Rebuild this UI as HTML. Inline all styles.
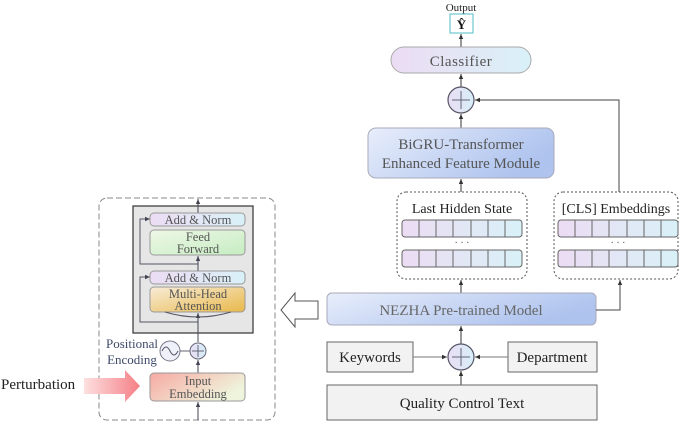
<!DOCTYPE html>
<html><head><meta charset="utf-8"><style>
html,body{margin:0;padding:0;background:#fff;}
svg{display:block;}
svg text{font-family:"Liberation Serif","Times New Roman",Times,serif;}
</style></head><body>
<svg width="685" height="422" viewBox="0 0 685 422" xmlns="http://www.w3.org/2000/svg" font-family="'Liberation Serif','Times New Roman',serif">
<defs>
<linearGradient id="cls" x1="0" x2="1"><stop offset="0" stop-color="#ecdcf3"/><stop offset="1" stop-color="#d9f1f8"/></linearGradient>
<linearGradient id="blue" x1="0" y1="0" x2="1" y2="0.4"><stop offset="0" stop-color="#e8eefb"/><stop offset="1" stop-color="#aec3ee"/></linearGradient>
<linearGradient id="plus" x1="0" x2="1"><stop offset="0" stop-color="#e9def4"/><stop offset="1" stop-color="#d7eef8"/></linearGradient>
<linearGradient id="ff" x1="0" y1="0" x2="1" y2="1"><stop offset="0" stop-color="#eef8e6"/><stop offset="1" stop-color="#c6ecc2"/></linearGradient>
<linearGradient id="mha" x1="0" y1="0" x2="1" y2="1"><stop offset="0" stop-color="#f8ecd8"/><stop offset="1" stop-color="#e8b84a"/></linearGradient>
<linearGradient id="ie" x1="0" y1="0" x2="1" y2="0.5"><stop offset="0" stop-color="#f7a9a3"/><stop offset="1" stop-color="#eef5dc"/></linearGradient>
<linearGradient id="pert" x1="0" x2="1"><stop offset="0" stop-color="#fde0e0"/><stop offset="1" stop-color="#f57f86"/></linearGradient>
<marker id="ar" markerWidth="6" markerHeight="6" refX="5" refY="3" orient="auto"><path d="M0,0.8 L5,3 L0,5.2z" fill="#333"/></marker>
<marker id="ar2" markerWidth="6" markerHeight="6" refX="5" refY="3" orient="auto"><path d="M0,0.8 L5,3 L0,5.2z" fill="#445"/></marker>
</defs>

<text x="461" y="11" font-size="11" text-anchor="middle" fill="#222">Output</text>
<rect x="450" y="14" width="23" height="19" fill="#fff" stroke="#6cc8d0" stroke-width="1.2"/>
<text x="461.5" y="29" font-size="13" font-weight="bold" text-anchor="middle" fill="#111">Ŷ</text>
<line x1="461" y1="47" x2="461" y2="34" stroke="#333" marker-end="url(#ar)"/>

<rect x="391" y="47" width="140" height="26" rx="13" fill="url(#cls)" stroke="#aaa"/>
<text x="461" y="66" font-size="15" text-anchor="middle" fill="#555" letter-spacing="0.5">Classifier</text>
<line x1="461" y1="87" x2="461" y2="74" stroke="#333" marker-end="url(#ar)"/>

<circle cx="461" cy="100" r="13" fill="url(#plus)" stroke="#556" stroke-width="1.2"/>
<path d="M452,100h18M461,91v18" stroke="#667" stroke-width="1"/>
<line x1="461" y1="128" x2="461" y2="114" stroke="#333" marker-end="url(#ar)"/>

<rect x="368" y="128" width="186" height="50" rx="8" fill="url(#blue)" stroke="#aab"/>
<text x="461" y="149" font-size="15" text-anchor="middle" fill="#555">BiGRU-Transformer</text>
<text x="461" y="168" font-size="15" text-anchor="middle" fill="#555">Enhanced Feature Module</text>
<line x1="461" y1="192" x2="461" y2="179" stroke="#333" marker-end="url(#ar)"/>

<polyline points="619,192 619,100 475,100" fill="none" stroke="#444" marker-end="url(#ar)"/>

<rect x="397" y="192" width="130" height="87" rx="9" fill="none" stroke="#555" stroke-dasharray="2,2"/>
<text x="462" y="213" font-size="14" text-anchor="middle" fill="#222">Last Hidden State</text>
<rect x="554" y="192" width="124" height="87" rx="9" fill="none" stroke="#555" stroke-dasharray="2,2"/>
<text x="616" y="213" font-size="14" text-anchor="middle" fill="#222">[CLS] Embeddings</text>
<g id="cells">
<rect x="402" y="220" width="120" height="17" rx="3" fill="url(#cls)" stroke="#666"/>
<path d="M419,220v17M436,220v17M453,220v17M471,220v17M488,220v17M505,220v17" stroke="#666"/>
<rect x="402" y="250" width="120" height="17" rx="3" fill="url(#cls)" stroke="#666"/>
<path d="M419,250v17M436,250v17M453,250v17M471,250v17M488,250v17M505,250v17" stroke="#666"/>
<text x="462" y="246" font-size="10" text-anchor="middle" fill="#556">· · ·</text>
</g>
<use href="#cells" transform="translate(156,0)"/>

<line x1="461" y1="293" x2="461" y2="280" stroke="#333" marker-end="url(#ar)"/>
<rect x="327" y="293" width="269" height="32" rx="5" fill="url(#blue)" stroke="#aab"/>
<text x="461" y="315" font-size="15" text-anchor="middle" fill="#666">NEZHA Pre-trained Model</text>
<polyline points="596,310 620,310 620,280" fill="none" stroke="#444" marker-end="url(#ar)"/>

<path d="M318,301 H295 V293 L281,310 L295,327 V319 H318 Z" fill="#fff" stroke="#555"/>

<line x1="461" y1="344" x2="461" y2="326" stroke="#333" marker-end="url(#ar)"/>
<rect x="327" y="342" width="86" height="30" fill="#f2f2f2" stroke="#666"/>
<text x="370" y="362" font-size="15" text-anchor="middle" fill="#222">Keywords</text>
<rect x="508" y="342" width="89" height="30" fill="#f2f2f2" stroke="#666"/>
<text x="552" y="362" font-size="15" text-anchor="middle" fill="#222">Department</text>
<line x1="413" y1="357" x2="447" y2="357" stroke="#777" marker-end="url(#ar)"/>
<line x1="508" y1="357" x2="475" y2="357" stroke="#777" marker-end="url(#ar)"/>
<circle cx="461" cy="357" r="13" fill="url(#plus)" stroke="#556" stroke-width="1.2"/>
<path d="M452,357h18M461,348v18" stroke="#667"/>
<line x1="461" y1="385" x2="461" y2="371" stroke="#333" marker-end="url(#ar)"/>
<rect x="327" y="385" width="270" height="35" fill="#f2f2f2" stroke="#666"/>
<text x="462" y="408" font-size="15" text-anchor="middle" fill="#222">Quality Control Text</text>

<rect x="99" y="198" width="176" height="222" rx="8" fill="none" stroke="#888" stroke-dasharray="6,3"/>
<rect x="133" y="206" width="120" height="127" fill="#e6e6e6" stroke="#333" stroke-width="1.2"/>
<line x1="198" y1="213" x2="198" y2="199" stroke="#445" marker-end="url(#ar2)"/>
<polyline points="198,264 140,264 140,219 150,219" fill="none" stroke="#556" marker-end="url(#ar2)"/>
<polyline points="198,322 140,322 140,277 150,277" fill="none" stroke="#556" marker-end="url(#ar2)"/>
<line x1="198" y1="271" x2="198" y2="256" stroke="#445" marker-end="url(#ar2)"/>
<rect x="150" y="213" width="95" height="13" rx="4" fill="url(#cls)" stroke="#999"/>
<text x="198" y="224" font-size="12.5" text-anchor="middle" fill="#555">Add &amp; Norm</text>
<rect x="150" y="230" width="95" height="25" rx="4" fill="url(#ff)" stroke="#999"/>
<text x="198" y="241" font-size="12.5" text-anchor="middle" fill="#555">Feed</text>
<text x="198" y="253" font-size="12.5" text-anchor="middle" fill="#555">Forward</text>
<rect x="150" y="271" width="95" height="13" rx="4" fill="url(#cls)" stroke="#999"/>
<text x="198" y="282" font-size="12.5" text-anchor="middle" fill="#555">Add &amp; Norm</text>
<rect x="150" y="287" width="95" height="25" rx="4" fill="url(#mha)" stroke="#999"/>
<text x="198" y="298" font-size="12.5" text-anchor="middle" fill="#555">Multi-Head</text>
<text x="198" y="310" font-size="12.5" text-anchor="middle" fill="#555">Attention</text>
<path d="M165,312 Q198,322 231,312" fill="none" stroke="#556"/>
<line x1="198" y1="342" x2="198" y2="313" stroke="#445" marker-end="url(#ar2)"/>

<circle cx="198" cy="351" r="8" fill="url(#plus)" stroke="#667"/>
<path d="M192,351h12M198,345v12" stroke="#667"/>
<circle cx="170" cy="351" r="10" fill="#eef0fa" stroke="#778"/>
<path d="M162,351 Q166,343 170,351 T178,351" fill="none" stroke="#556"/>
<line x1="180" y1="351" x2="190" y2="351" stroke="#667"/>
<text x="132" y="348" font-size="13" text-anchor="middle" fill="#3d4a6a">Positional</text>
<text x="132" y="364" font-size="13" text-anchor="middle" fill="#3d4a6a">Encoding</text>
<line x1="198" y1="373" x2="198" y2="360" stroke="#445" marker-end="url(#ar2)"/>
<rect x="150" y="373" width="95" height="28" rx="4" fill="url(#ie)" stroke="#999"/>
<text x="198" y="385" font-size="12.5" text-anchor="middle" fill="#555">Input</text>
<text x="198" y="398" font-size="12.5" text-anchor="middle" fill="#555">Embedding</text>
<line x1="198" y1="420" x2="198" y2="402" stroke="#445" marker-end="url(#ar2)"/>

<path d="M84,378 H125 V370 L140,386 L125,402 V394 H84 Z" fill="url(#pert)"/>
<text x="1" y="389" font-size="15" fill="#222">Perturbation</text>
</svg>
</body></html>
